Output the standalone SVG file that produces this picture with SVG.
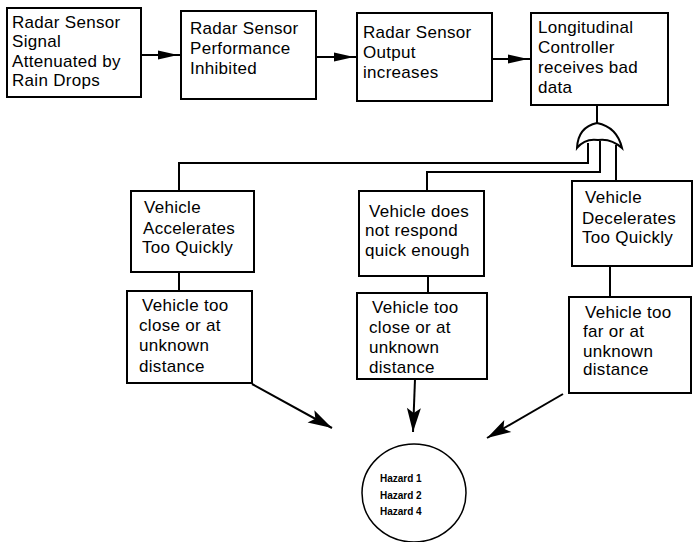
<svg xmlns="http://www.w3.org/2000/svg" width="693" height="542" viewBox="0 0 693 542">
<style>
.box{fill:#fff;stroke:#000;stroke-width:2}
.t{font-family:"Liberation Sans",Arial,sans-serif;font-size:17px;fill:#000;letter-spacing:0.3px}
.h{font-family:"Liberation Sans",Arial,sans-serif;font-size:10px;font-weight:bold;fill:#000}
.ln{fill:none;stroke:#000;stroke-width:2}
</style>
<defs>
<marker id="as" markerUnits="userSpaceOnUse" markerWidth="26" markerHeight="14" refX="23" refY="6" orient="auto" overflow="visible">
<path d="M0,1.5 L20,6 L0,10.5 Z" fill="#000"/>
</marker>
<marker id="al" markerUnits="userSpaceOnUse" markerWidth="26" markerHeight="16" refX="24" refY="7" orient="auto" overflow="visible">
<path d="M0,0 L24,7 L0,14 L5,7 Z" fill="#000"/>
</marker>
</defs>
<rect width="693" height="542" fill="#fff"/>
<g id="connectors">
<line class="ln" x1="141" y1="55" x2="181" y2="55" marker-end="url(#as)"/>
<line class="ln" x1="316" y1="57" x2="357" y2="57" marker-end="url(#as)"/>
<line class="ln" x1="492" y1="59" x2="531" y2="59" marker-end="url(#as)"/>
<line class="ln" x1="597" y1="105" x2="597" y2="124"/>
<polyline class="ln" points="588,143 588,163 179,163 179,191"/>
<polyline class="ln" points="600,141 600,172 427,172 427,191"/>
<line class="ln" x1="616" y1="145" x2="616" y2="181"/>
<line class="ln" x1="179" y1="272" x2="179" y2="291"/>
<line class="ln" x1="428" y1="276" x2="428" y2="293"/>
<line class="ln" x1="610" y1="266" x2="610" y2="297"/>
<line class="ln" x1="252" y1="384" x2="332" y2="428" marker-end="url(#al)"/>
<line class="ln" x1="415" y1="379" x2="413" y2="432" marker-end="url(#al)"/>
<line class="ln" x1="563" y1="394" x2="487" y2="438" marker-end="url(#al)"/>
</g>
<g id="orgate">
<path d="M577,148 Q578,127 597,123 Q617,127 622,148 Q611,138 598,140 Q585,138 577,148 Z" fill="#fff" stroke="#000" stroke-width="2"/>
</g>
<g id="n1">
<rect class="box" x="7" y="8" width="134" height="89"/>
<text class="t" x="12" y="28">Radar Sensor</text>
<text class="t" x="12" y="47">Signal</text>
<text class="t" x="12" y="67">Attenuated by</text>
<text class="t" x="12" y="86">Rain Drops</text>
</g>
<g id="n2">
<rect class="box" x="181" y="11" width="135" height="88"/>
<text class="t" x="190" y="34">Radar Sensor</text>
<text class="t" x="190" y="54">Performance</text>
<text class="t" x="190" y="74">Inhibited</text>
</g>
<g id="n3">
<rect class="box" x="357" y="13" width="135" height="88"/>
<text class="t" x="363" y="38">Radar Sensor</text>
<text class="t" x="363" y="58">Output</text>
<text class="t" x="363" y="78">increases</text>
</g>
<g id="n4">
<rect class="box" x="531" y="13" width="137" height="92"/>
<text class="t" x="538" y="33">Longitudinal</text>
<text class="t" x="538" y="53">Controller</text>
<text class="t" x="538" y="73">receives bad</text>
<text class="t" x="538" y="93">data</text>
</g>
<g id="n5">
<rect class="box" x="131" y="191" width="123" height="81"/>
<text class="t" x="144" y="213">Vehicle</text>
<text class="t" x="143" y="234">Accelerates</text>
<text class="t" x="142" y="253">Too Quickly</text>
</g>
<g id="n6">
<rect class="box" x="359" y="191" width="125" height="85"/>
<text class="t" x="369" y="217">Vehicle does</text>
<text class="t" x="365" y="236">not  respond</text>
<text class="t" x="365" y="256">quick  enough</text>
</g>
<g id="n7">
<rect class="box" x="572" y="181" width="120" height="85"/>
<text class="t" x="585" y="203">Vehicle</text>
<text class="t" x="582" y="224">Decelerates</text>
<text class="t" x="582" y="243">Too Quickly</text>
</g>
<g id="n8">
<rect class="box" x="127" y="291" width="125" height="92"/>
<text class="t" x="142" y="311">Vehicle too</text>
<text class="t" x="139" y="331">close or at</text>
<text class="t" x="139" y="351">unknown</text>
<text class="t" x="139" y="372">distance</text>
</g>
<g id="n9">
<rect class="box" x="357" y="293" width="130" height="86"/>
<text class="t" x="372" y="313">Vehicle too</text>
<text class="t" x="369" y="333">close or at</text>
<text class="t" x="369" y="353">unknown</text>
<text class="t" x="369" y="373">distance</text>
</g>
<g id="n10">
<rect class="box" x="569" y="297" width="122" height="96"/>
<text class="t" x="585" y="318">Vehicle too</text>
<text class="t" x="583" y="337">far or at</text>
<text class="t" x="583" y="357">unknown</text>
<text class="t" x="583" y="375">distance</text>
</g>
<g id="hazard">
<ellipse cx="414" cy="493" rx="52" ry="49" fill="#fff" stroke="#000" stroke-width="1.5"/>
<text class="h" x="380" y="482">Hazard 1</text>
<text class="h" x="380" y="499">Hazard 2</text>
<text class="h" x="380" y="515">Hazard 4</text>
</g>
</svg>
